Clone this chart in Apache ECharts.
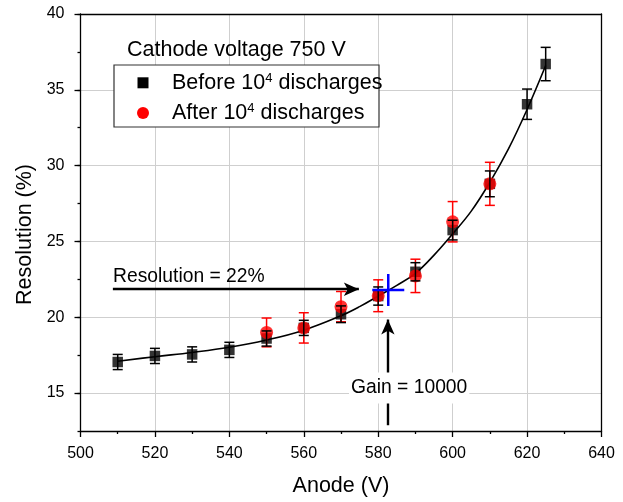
<!DOCTYPE html>
<html>
<head>
<meta charset="utf-8">
<script src="https://cdn.jsdelivr.net/npm/echarts@6/dist/echarts.min.js"></script>
<style>
html,body{margin:0;padding:0;background:#fff;}
#chart{width:623px;height:502px;}
</style>
</head>
<body>
<div id="chart"></div>
<script>
// ---- data ----
var anodeBefore = [510, 520, 530, 540, 550, 560, 570, 580, 590, 600, 610, 620, 625];
var resBefore   = [17.05, 17.45, 17.55, 17.85, 18.6, 19.3, 20.2, 21.4, 23.0, 25.75, 28.8, 34.05, 36.7];
var errBefore   = [0.5, 0.5, 0.5, 0.5, 0.5, 0.5, 0.55, 0.6, 0.6, 0.65, 0.85, 1.0, 1.1];

var anodeAfter = [550, 560, 570, 580, 590, 600, 610];
var resAfter   = [19.0, 19.3, 20.7, 21.42, 22.73, 26.3, 28.8];
var errAfter   = [0.95, 1.0, 1.0, 1.05, 1.1, 1.33, 1.42];

var fitX = [510, 520, 530, 540, 550, 560, 570, 575, 580, 585, 590, 595, 600, 605, 610, 615, 620, 625];
var fitY = [17.1, 17.4, 17.68, 18.02, 18.5, 19.15, 20.1, 20.7, 21.4, 22.1, 22.9, 24.1, 25.5, 27.0, 28.9, 31.1, 33.7, 36.6];

var markRes  = [582.7, 21.8];   // blue cross
var resArrow = [[508.7, 21.85], [574.8, 21.85]];
var gainArrow = [[582.6, 12.88], [582.6, 19.85]];

var xTicks = {min: 500, max: 640, interval: 20};
var yTicks = {min: 12.5, max: 40};

var FONT = "'Liberation Sans', Arial, sans-serif";

function zip3(a, b, c) { return a.map(function (v, i) { return [v, b[i], c[i]]; }); }
function zip2(a, b) { return a.map(function (v, i) { return [v, b[i]]; }); }

function errRender(color, capW, lw) {
  return function (params, api) {
    var x = api.value(0), y = api.value(1), e = api.value(2);
    var t = api.coord([x, y + e]), b = api.coord([x, y - e]);
    var h = capW / 2;
    var st = {stroke: color, lineWidth: lw};
    return {type: 'group', children: [
      {type: 'line', shape: {x1: t[0], y1: t[1], x2: b[0], y2: b[1]}, style: st},
      {type: 'line', shape: {x1: t[0] - h, y1: t[1], x2: t[0] + h, y2: t[1]}, style: st},
      {type: 'line', shape: {x1: b[0] - h, y1: b[1], x2: b[0] + h, y2: b[1]}, style: st}
    ]};
  };
}

var chart = echarts.init(document.getElementById('chart'), null, {renderer: 'canvas'});

var option = {
  backgroundColor: '#fff',
  animation: false,
  textStyle: {fontFamily: FONT},
  grid: {left: 80.5, right: 21.5, top: 14, bottom: 68, containLabel: false},
  xAxis: [{
    type: 'value', min: xTicks.min, max: xTicks.max, interval: xTicks.interval,
    name: 'Anode (V)', nameLocation: 'middle', nameGap: 44,
    nameTextStyle: {fontSize: 21.5, color: '#000', fontFamily: FONT},
    axisLine: {show: true, onZero: false, lineStyle: {color: '#000', width: 1.3}},
    axisTick: {show: true, inside: false, length: 6, lineStyle: {color: '#000', width: 1.3}},
    minorTick: {show: true, splitNumber: 2, length: 3, lineStyle: {color: '#000', width: 1.3}},
    axisLabel: {fontSize: 16, color: '#000', margin: 15, fontFamily: FONT},
    splitLine: {show: true, lineStyle: {color: '#cfcfcf', width: 1}}
  }, {
    type: 'value', position: 'top', min: xTicks.min, max: xTicks.max, interval: xTicks.interval,
    axisLine: {show: true, onZero: false, lineStyle: {color: '#000', width: 1.3}},
    axisTick: {show: false}, axisLabel: {show: false}, splitLine: {show: false}
  }],
  yAxis: [{
    type: 'value', min: yTicks.min, max: yTicks.max,
    name: 'Resolution (%)', nameLocation: 'middle', nameGap: 40,
    nameTextStyle: {fontSize: 21.5, color: '#000', fontFamily: FONT, padding: [0, 24, 0, 0]},
    axisLine: {show: true, onZero: false, lineStyle: {color: '#000', width: 1.3}},
    axisTick: {show: true, inside: false, length: 6, lineStyle: {color: '#000', width: 1.3}},
    axisLabel: {fontSize: 16, color: '#000', margin: 16, showMinLabel: false, fontFamily: FONT},
    splitLine: {show: true, lineStyle: {color: '#cfcfcf', width: 1}}
  }, {
    type: 'value', position: 'left', min: yTicks.min, max: yTicks.max, interval: 2.5,
    axisLine: {show: false},
    axisTick: {show: true, inside: false, length: 3, lineStyle: {color: '#000', width: 1.3}},
    axisLabel: {show: false}, splitLine: {show: false}
  }, {
    type: 'value', position: 'right', min: yTicks.min, max: yTicks.max,
    axisLine: {show: true, onZero: false, lineStyle: {color: '#000', width: 1.3}},
    axisTick: {show: false}, axisLabel: {show: false}, splitLine: {show: false}
  }],
  series: [{
    name: 'fit', type: 'line', data: zip2(fitX, fitY), smooth: 0.4, showSymbol: false,
    lineStyle: {color: '#000', width: 1.6}, z: 2, silent: true,
    markLine: {
      silent: true, animation: false,
      symbol: ['none', 'arrow'], symbolSize: [10, 15],
      lineStyle: {color: '#000', width: 2.4, type: 'solid'},
      label: {show: false},
      data: [
        [{coord: resArrow[0]}, {coord: resArrow[1]}],
        [{coord: gainArrow[0]}, {coord: gainArrow[1]}]
      ]
    }
  }, {
    name: 'Before', type: 'scatter', data: zip2(anodeBefore, resBefore),
    symbol: 'rect', symbolSize: 10.5, itemStyle: {color: '#000'}, z: 3
  }, {
    name: 'After', type: 'scatter', data: zip2(anodeAfter, resAfter),
    symbol: 'circle', symbolSize: 13, itemStyle: {color: '#ff0000'}, z: 4
  }, {
    name: 'errAfter', type: 'custom', data: zip3(anodeAfter, resAfter, errAfter),
    renderItem: errRender('#ff0000', 10, 1.5), z: 5, silent: true
  }, {
    name: 'errBefore', type: 'custom', data: zip3(anodeBefore, resBefore, errBefore),
    renderItem: errRender('#000', 10, 1.5), z: 6, silent: true
  }, {
    name: 'cross', type: 'custom', data: [markRes], z: 7, silent: true,
    renderItem: function (params, api) {
      var p = api.coord([api.value(0), api.value(1)]);
      var st = {stroke: '#0000ff', lineWidth: 2.5};
      return {type: 'group', children: [
        {type: 'line', shape: {x1: p[0] - 16, y1: p[1], x2: p[0] + 16, y2: p[1]}, style: st},
        {type: 'line', shape: {x1: p[0], y1: p[1] - 16, x2: p[0], y2: p[1] + 16}, style: st}
      ]};
    }
  }],
  graphic: [
    {type: 'text', left: 127, top: 39, z: 100,
     style: {text: 'Cathode voltage 750 V', font: '21.5px ' + FONT, fill: '#000', verticalAlign: 'middle'}},
    {type: 'rect', shape: {x: 114, y: 65, width: 265, height: 62}, z: 100,
     style: {fill: '#fff', stroke: '#333', lineWidth: 1.2}},
    {type: 'rect', shape: {x: 137.5, y: 77.3, width: 11, height: 11}, z: 101, style: {fill: '#000'}},
    {type: 'circle', shape: {cx: 143, cy: 113, r: 6}, z: 101, style: {fill: '#ff0000'}},
    {type: 'text', x: 172, y: 83, z: 101,
     style: {text: 'Before 10{sup|4} discharges', fill: '#000', fontSize: 21.5, fontFamily: FONT,
             verticalAlign: 'middle',
             rich: {sup: {fontSize: 13, fontFamily: FONT, verticalAlign: 'top', fill: '#000'}}}},
    {type: 'text', x: 172, y: 113, z: 101,
     style: {text: 'After 10{sup|4} discharges', fill: '#000', fontSize: 21.5, fontFamily: FONT,
             verticalAlign: 'middle',
             rich: {sup: {fontSize: 13, fontFamily: FONT, verticalAlign: 'top', fill: '#000'}}}},
    {type: 'text', x: 113, y: 277, z: 100,
     style: {text: 'Resolution = 22%', fill: '#000', fontSize: 19.3, fontFamily: FONT, verticalAlign: 'middle'}},
    {type: 'text', x: 349, y: 388, z: 100,
     style: {text: 'Gain = 10000', fill: '#000', fontSize: 19.3, fontFamily: FONT, verticalAlign: 'middle',
             backgroundColor: '#fff', padding: [6, 2, 6, 2]}}
  ]
};
chart.setOption(option);
</script>
</body>
</html>
